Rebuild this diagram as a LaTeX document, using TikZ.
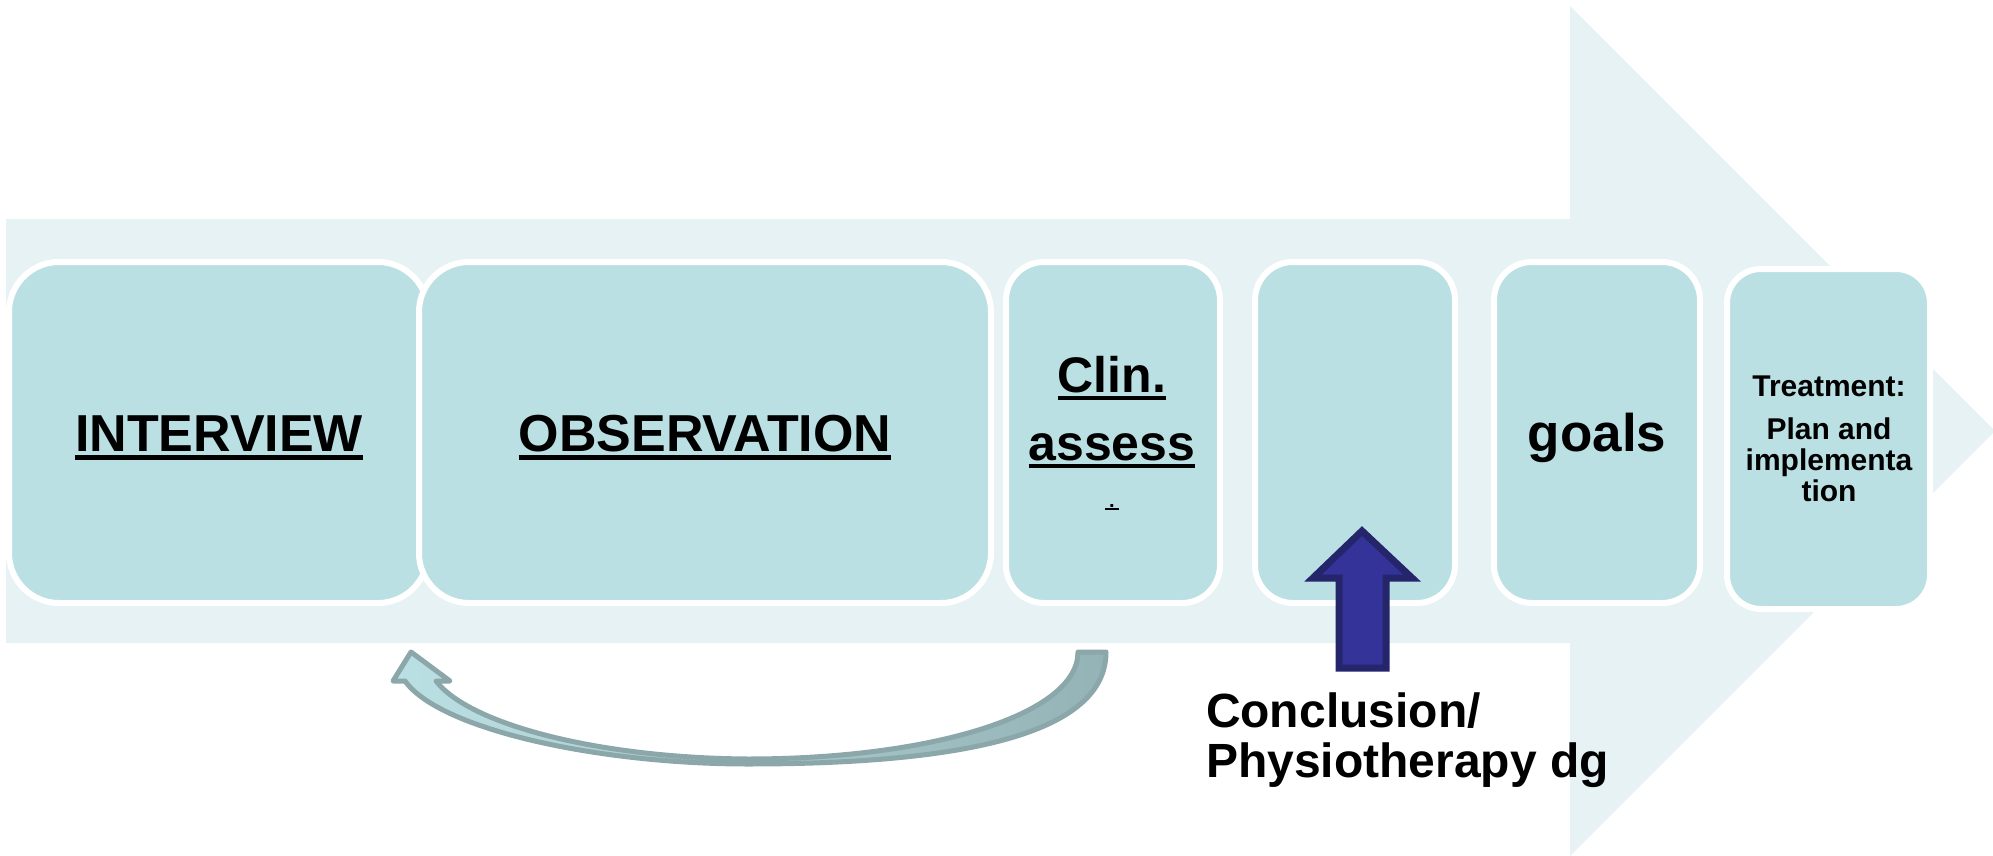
\documentclass[tikz,border=0pt]{standalone}
\usepackage{fontspec}
\setmainfont{Liberation Sans}

\definecolor{flowbg}{HTML}{E6F2F4}
\definecolor{cardfill}{HTML}{BBE0E3}
\definecolor{pushfill}{HTML}{333399}
\definecolor{pushline}{HTML}{25256B}
\definecolor{loopline}{HTML}{8BA7AA}
\definecolor{looplight}{HTML}{BBE0E3}
\definecolor{loopdark}{HTML}{94B3B6}

% underline drawn as a rule just below the baseline
\newcommand\tul[1]{\setbox0=\hbox{#1}\rlap{\vrule width\wd0 height -0.07em depth 0.165em}\box0}

\tikzset{
  card/.style={draw=white, line width=3pt, fill=cardfill, inner sep=0pt, rounded corners=#1},
  card/.default=19pt,
  lbl/.style={inner sep=0pt, outer sep=0pt, font=\bfseries, text=black},
}

\begin{document}
\begin{tikzpicture}[x=0.5pt, y=-0.5pt]
\useasboundingbox (0,0) rectangle (1993,856);

% broad process arrow in the background
\fill[flowbg] (6,219) -- (1570,219) -- (1570,6) -- (1995,431) -- (1570,856)
  -- (1570,643) -- (6,643) -- cycle;

% process stages
\node[card=25pt, minimum width=209.5pt, minimum height=170.5pt] (interview) at (218.5,432.5) {};
\node[card=25pt, minimum width=286pt, minimum height=170.5pt] (observation) at (705,432.5) {};
\node[card, minimum width=107pt, minimum height=170.5pt] (clin) at (1113,432.5) {};
\node[card, minimum width=100pt, minimum height=170.5pt] (dg) at (1355,432.5) {};
\node[card, minimum width=103pt, minimum height=170.5pt] (goals) at (1597,432.5) {};
\node[card=17pt, minimum width=101.5pt, minimum height=170pt] (treat) at (1828.5,439) {};

% stage texts
\node[lbl, anchor=base] (interview-t) at (219,451) {\fontsize{26}{30}\selectfont\tul{INTERVIEW}};
\node[lbl, anchor=base] (observation-t) at (705,451) {\fontsize{26}{30}\selectfont\tul{OBSERVATION}};
\node[lbl, anchor=base] (clin-t) at (1112,392) {\fontsize{25}{34}\selectfont
  \begin{tabular}[t]{@{}c@{}}\tul{Clin.}\\\tul{assess}\\[-10.5pt]{\fontsize{10}{10}\selectfont\tul{\kern2pt.\kern2pt}}\end{tabular}};
\node[lbl, anchor=base] (goals-t) at (1597,451) {\fontsize{26.5}{30}\selectfont goals};
\node[lbl, anchor=base] (treat-t) at (1829,396) {\fontsize{15}{15}\selectfont
  \begin{tabular}[t]{@{}c@{}}Treatment:\\[6.5pt]Plan and\\implementa\\tion\end{tabular}};

% diagnosis caption below the flow
\node[lbl, anchor=base west] (concl) at (1206,727) {\fontsize{24}{25}\selectfont
  \begin{tabular}[t]{@{}l@{}}Conclusion/\\Physiotherapy dg\end{tabular}};

% block arrow from the caption up into the diagnosis stage
\filldraw[fill=pushfill, draw=pushline, line width=3.5pt, line join=miter]
  (1362,531) -- (1412,578) -- (1386,578) -- (1386,668) -- (1339,668)
  -- (1339,578) -- (1313,578) -- cycle;

% curved return arrow from assessment back to observation
\shadedraw[left color=looplight, right color=loopdark, draw=loopline,
  line width=2.5pt, line join=round]
  (1106,652) .. controls (1106,735) and (960,764) .. (748,764)
  .. controls (600,764) and (440,730) .. (405,681)
  -- (393,681) -- (411,652) -- (450,681) -- (436,681)
  .. controls (470,725) and (600,758) .. (748,759)
  .. controls (930,759) and (1078,715) .. (1078,652) -- cycle;
\end{tikzpicture}
\end{document}
